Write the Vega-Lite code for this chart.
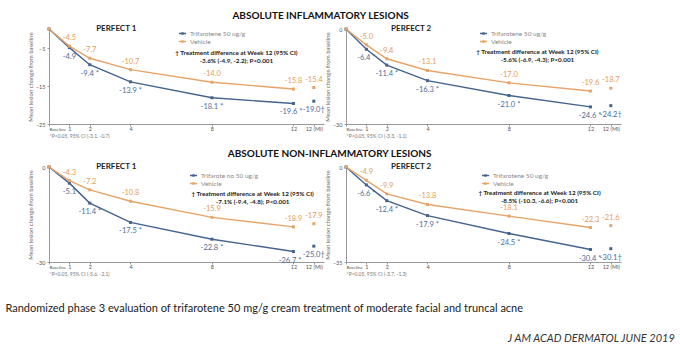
{
  "$schema": "https://vega.github.io/schema/vega-lite/v6.json",
  "background": "white",
  "padding": {"left": 5, "top": 11, "right": 5, "bottom": 3},
  "title": {"text": "J AM ACAD DERMATOL JUNE 2019", "orient": "bottom", "anchor": "end", "frame": "bounds", "dx": 53, "offset": 19, "fontSize": 11, "fontStyle": "italic", "fontWeight": "normal", "color": "#333"},
  "resolve": {"scale": {"color": "independent"}, "legend": {"color": "independent"}},
  "datasets": {
    "p1": [
      {"week": 0, "group": "Trifarotene 50 ug/g", "value": 0, "label": "", "mi": false},
      {"week": 1, "group": "Trifarotene 50 ug/g", "value": -4.9, "label": "-4.9", "mi": false},
      {"week": 2, "group": "Trifarotene 50 ug/g", "value": -9.4, "label": "-9.4 *", "mi": false},
      {"week": 4, "group": "Trifarotene 50 ug/g", "value": -13.9, "label": "-13.9 *", "mi": false},
      {"week": 8, "group": "Trifarotene 50 ug/g", "value": -18.1, "label": "-18.1 *", "mi": false},
      {"week": 12, "group": "Trifarotene 50 ug/g", "value": -19.6, "label": "-19.6 *", "mi": false},
      {"week": 13, "group": "Trifarotene 50 ug/g", "value": -19.0, "label": "-19.0†", "mi": true},
      {"week": 0, "group": "Vehicle", "value": 0, "label": "", "mi": false},
      {"week": 1, "group": "Vehicle", "value": -4.5, "label": "-4.5", "mi": false},
      {"week": 2, "group": "Vehicle", "value": -7.7, "label": "-7.7", "mi": false},
      {"week": 4, "group": "Vehicle", "value": -10.7, "label": "-10.7", "mi": false},
      {"week": 8, "group": "Vehicle", "value": -14.0, "label": "-14.0", "mi": false},
      {"week": 12, "group": "Vehicle", "value": -15.8, "label": "-15.8", "mi": false},
      {"week": 13, "group": "Vehicle", "value": -15.4, "label": "-15.4", "mi": true}
    ],
    "p2": [
      {"week": 0, "group": "Trifarotene 50 ug/g", "value": 0, "label": "", "mi": false},
      {"week": 1, "group": "Trifarotene 50 ug/g", "value": -6.4, "label": "-6.4 *", "mi": false},
      {"week": 2, "group": "Trifarotene 50 ug/g", "value": -11.4, "label": "-11.4 *", "mi": false},
      {"week": 4, "group": "Trifarotene 50 ug/g", "value": -16.3, "label": "-16.3 *", "mi": false},
      {"week": 8, "group": "Trifarotene 50 ug/g", "value": -21.0, "label": "-21.0 *", "mi": false},
      {"week": 12, "group": "Trifarotene 50 ug/g", "value": -24.6, "label": "-24.6 *", "mi": false},
      {"week": 13, "group": "Trifarotene 50 ug/g", "value": -24.2, "label": "-24.2†", "mi": true},
      {"week": 0, "group": "Vehicle", "value": 0, "label": "", "mi": false},
      {"week": 1, "group": "Vehicle", "value": -5.0, "label": "-5.0", "mi": false},
      {"week": 2, "group": "Vehicle", "value": -9.4, "label": "-9.4", "mi": false},
      {"week": 4, "group": "Vehicle", "value": -13.1, "label": "-13.1", "mi": false},
      {"week": 8, "group": "Vehicle", "value": -17.0, "label": "-17.0", "mi": false},
      {"week": 12, "group": "Vehicle", "value": -19.6, "label": "-19.6", "mi": false},
      {"week": 13, "group": "Vehicle", "value": -18.7, "label": "-18.7", "mi": true}
    ],
    "p3": [
      {"week": 0, "group": "Trifarote no 50 ug/g", "value": 0, "label": "", "mi": false},
      {"week": 1, "group": "Trifarote no 50 ug/g", "value": -5.1, "label": "-5.1", "mi": false},
      {"week": 2, "group": "Trifarote no 50 ug/g", "value": -11.4, "label": "-11.4 *", "mi": false},
      {"week": 4, "group": "Trifarote no 50 ug/g", "value": -17.5, "label": "-17.5 *", "mi": false},
      {"week": 8, "group": "Trifarote no 50 ug/g", "value": -22.8, "label": "-22.8 *", "mi": false},
      {"week": 12, "group": "Trifarote no 50 ug/g", "value": -26.7, "label": "-26.7 *", "mi": false},
      {"week": 13, "group": "Trifarote no 50 ug/g", "value": -25.0, "label": "-25.0†", "mi": true},
      {"week": 0, "group": "Vehicle", "value": 0, "label": "", "mi": false},
      {"week": 1, "group": "Vehicle", "value": -4.3, "label": "-4.3", "mi": false},
      {"week": 2, "group": "Vehicle", "value": -7.2, "label": "-7.2", "mi": false},
      {"week": 4, "group": "Vehicle", "value": -10.8, "label": "-10.8", "mi": false},
      {"week": 8, "group": "Vehicle", "value": -15.9, "label": "-15.9", "mi": false},
      {"week": 12, "group": "Vehicle", "value": -18.9, "label": "-18.9", "mi": false},
      {"week": 13, "group": "Vehicle", "value": -17.9, "label": "-17.9", "mi": true}
    ],
    "p4": [
      {"week": 0, "group": "Trifarotene 50 ug/g", "value": 0, "label": "", "mi": false},
      {"week": 1, "group": "Trifarotene 50 ug/g", "value": -6.6, "label": "-6.6 *", "mi": false},
      {"week": 2, "group": "Trifarotene 50 ug/g", "value": -12.4, "label": "-12.4 *", "mi": false},
      {"week": 4, "group": "Trifarotene 50 ug/g", "value": -17.9, "label": "-17.9 *", "mi": false},
      {"week": 8, "group": "Trifarotene 50 ug/g", "value": -24.5, "label": "-24.5 *", "mi": false},
      {"week": 12, "group": "Trifarotene 50 ug/g", "value": -30.4, "label": "-30.4 *", "mi": false},
      {"week": 13, "group": "Trifarotene 50 ug/g", "value": -30.1, "label": "-30.1†", "mi": true},
      {"week": 0, "group": "Vehicle", "value": 0, "label": "", "mi": false},
      {"week": 1, "group": "Vehicle", "value": -4.9, "label": "-4.9", "mi": false},
      {"week": 2, "group": "Vehicle", "value": -9.9, "label": "-9.9", "mi": false},
      {"week": 4, "group": "Vehicle", "value": -13.8, "label": "-13.8", "mi": false},
      {"week": 8, "group": "Vehicle", "value": -18.1, "label": "-18.1", "mi": false},
      {"week": 12, "group": "Vehicle", "value": -22.3, "label": "-22.3", "mi": false},
      {"week": 13, "group": "Vehicle", "value": -21.6, "label": "-21.6", "mi": true}
    ]
  },
  "vconcat": [
    {
      "title": {"text": "Randomized phase 3 evaluation of trifarotene 50 mg/g cream treatment of moderate facial and truncal acne", "orient": "bottom", "anchor": "start", "frame": "bounds", "dx": -22, "offset": 26, "fontSize": 11, "fontWeight": "normal", "color": "#222"},
      "resolve": {"scale": {"color": "independent"}, "legend": {"color": "independent"}},
      "spacing": 10,
      "vconcat": [
        {
          "title": {"text": "ABSOLUTE INFLAMMATORY LESIONS", "anchor": "middle", "fontSize": 10, "fontWeight": "bold", "offset": 4, "dx": -4, "color": "#111"},
          "bounds": "flush",
          "spacing": 22,
          "resolve": {"scale": {"color": "independent"}, "legend": {"color": "independent"}},
          "hconcat": [
            {
              "width": 275, "height": 95,
              "data": {"name": "p1"},
              "layer": [
                {
                  "transform": [{"filter": "!datum.mi"}],
                  "mark": {"type": "line", "strokeWidth": 1.4, "point": {"filled": true, "shape": "square", "size": 9}},
                  "encoding": {
                    "x": {"field": "week", "type": "quantitative", "scale": {"domain": [0, 13.5], "nice": false}, "axis": {"values": [0, 1, 2, 4, 8, 12, 13], "labelOverlap": false, "labelExpr": "datum.value == 0 ? 'Baseline' : datum.value == 13 ? '12 (MI)' : datum.label", "title": "*P<0.05, 95% CI (-3.1, -0.7)"}},
                    "y": {"field": "value", "type": "quantitative", "scale": {"domain": [-25, 0], "nice": false}, "axis": {"values": [0, -5, -10, -15, -20, -25], "labelOverlap": false, "title": "Mean lesion change from baseline"}},
                    "color": {"field": "group", "type": "nominal", "scale": {"domain": ["Trifarotene 50 ug/g", "Vehicle"], "range": ["#44638f", "#e6a468"]}, "legend": {"orient": "none", "legendX": 129, "legendY": 0, "title": null}}
                  }
                },
                {
                  "transform": [{"filter": "datum.mi"}],
                  "mark": {"type": "point", "filled": true, "shape": "square", "size": 9, "opacity": 1},
                  "encoding": {"x": {"field": "week", "type": "quantitative", "axis": {"labelOverlap": false}}, "y": {"field": "value", "type": "quantitative", "axis": {"labelOverlap": false}}, "color": {"field": "group", "type": "nominal"}}
                },
                {
                  "transform": [{"filter": "datum.group != 'Vehicle' && datum.label != '' && datum.week != 12"}],
                  "mark": {"type": "text", "dy": 9, "fontSize": 7.5, "color": "#4b6c9a"},
                  "encoding": {"x": {"field": "week", "type": "quantitative", "axis": {"labelOverlap": false}}, "y": {"field": "value", "type": "quantitative", "axis": {"labelOverlap": false}}, "text": {"field": "label"}}
                },
                {
                  "transform": [{"filter": "datum.group != 'Vehicle' && datum.week == 12"}],
                  "mark": {"type": "text", "dy": 9, "dx": 9, "align": "right", "fontSize": 7.5, "color": "#4b6c9a"},
                  "encoding": {"x": {"field": "week", "type": "quantitative", "axis": {"labelOverlap": false}}, "y": {"field": "value", "type": "quantitative", "axis": {"labelOverlap": false}}, "text": {"field": "label"}}
                },
                {
                  "transform": [{"filter": "datum.group == 'Vehicle' && datum.label != ''"}],
                  "mark": {"type": "text", "dy": -8, "fontSize": 7.5, "color": "#e39c5c"},
                  "encoding": {"x": {"field": "week", "type": "quantitative", "axis": {"labelOverlap": false}}, "y": {"field": "value", "type": "quantitative", "axis": {"labelOverlap": false}}, "text": {"field": "label"}}
                },
                {
                  "data": {"values": [{}]},
                  "mark": {"type": "text", "text": "PERFECT 1", "fontWeight": "bold", "fontSize": 8, "color": "#222"},
                  "encoding": {"x": {"datum": 3.3, "axis": {"labelOverlap": false}}, "y": {"datum": 0, "axis": {"labelOverlap": false}}}
                },
                {
                  "data": {"values": [{}]},
                  "mark": {"type": "text", "text": ["† Treatment difference at Week 12 (95% CI)", "-3.6% (-4.9, -2.2); P<0.001"], "fontWeight": "bold", "fontSize": 6.3, "lineHeight": 8, "color": "#222"},
                  "encoding": {"x": {"datum": 9.2, "axis": {"labelOverlap": false}}, "y": {"datum": -6.3, "axis": {"labelOverlap": false}}}
                }
              ]
            },
            {
              "width": 275, "height": 95,
              "data": {"name": "p2"},
              "layer": [
                {
                  "transform": [{"filter": "!datum.mi"}],
                  "mark": {"type": "line", "strokeWidth": 1.4, "point": {"filled": true, "shape": "square", "size": 9}},
                  "encoding": {
                    "x": {"field": "week", "type": "quantitative", "scale": {"domain": [0, 13.5], "nice": false}, "axis": {"values": [0, 1, 2, 4, 8, 12, 13], "labelOverlap": false, "labelExpr": "datum.value == 0 ? 'Baseline' : datum.value == 13 ? '12 (MI)' : datum.label", "title": "*P<0.05, 95% CI (-3.3, -1.1)"}},
                    "y": {"field": "value", "type": "quantitative", "scale": {"domain": [-30, 0], "nice": false}, "axis": {"values": [0, -5, -10, -15, -20, -25, -30], "labelOverlap": false, "title": "Mean lesion change from baseline"}},
                    "color": {"field": "group", "type": "nominal", "scale": {"domain": ["Trifarotene 50 ug/g", "Vehicle"], "range": ["#44638f", "#e6a468"]}, "legend": {"orient": "none", "legendX": 133, "legendY": 0, "title": null}}
                  }
                },
                {
                  "transform": [{"filter": "datum.mi"}],
                  "mark": {"type": "point", "filled": true, "shape": "square", "size": 9, "opacity": 1},
                  "encoding": {"x": {"field": "week", "type": "quantitative", "axis": {"labelOverlap": false}}, "y": {"field": "value", "type": "quantitative", "axis": {"labelOverlap": false}}, "color": {"field": "group", "type": "nominal"}}
                },
                {
                  "transform": [{"filter": "datum.group != 'Vehicle' && datum.label != '' && datum.week != 12"}],
                  "mark": {"type": "text", "dy": 9, "fontSize": 7.5, "color": "#4b6c9a"},
                  "encoding": {"x": {"field": "week", "type": "quantitative", "axis": {"labelOverlap": false}}, "y": {"field": "value", "type": "quantitative", "axis": {"labelOverlap": false}}, "text": {"field": "label"}}
                },
                {
                  "transform": [{"filter": "datum.group != 'Vehicle' && datum.week == 12"}],
                  "mark": {"type": "text", "dy": 9, "dx": 11, "align": "right", "fontSize": 7.5, "color": "#4b6c9a"},
                  "encoding": {"x": {"field": "week", "type": "quantitative", "axis": {"labelOverlap": false}}, "y": {"field": "value", "type": "quantitative", "axis": {"labelOverlap": false}}, "text": {"field": "label"}}
                },
                {
                  "transform": [{"filter": "datum.group == 'Vehicle' && datum.label != ''"}],
                  "mark": {"type": "text", "dy": -8, "fontSize": 7.5, "color": "#e39c5c"},
                  "encoding": {"x": {"field": "week", "type": "quantitative", "axis": {"labelOverlap": false}}, "y": {"field": "value", "type": "quantitative", "axis": {"labelOverlap": false}}, "text": {"field": "label"}}
                },
                {
                  "data": {"values": [{}]},
                  "mark": {"type": "text", "text": "PERFECT 2", "fontWeight": "bold", "fontSize": 8, "color": "#222"},
                  "encoding": {"x": {"datum": 3.2, "axis": {"labelOverlap": false}}, "y": {"datum": 0, "axis": {"labelOverlap": false}}}
                },
                {
                  "data": {"values": [{}]},
                  "mark": {"type": "text", "text": ["† Treatment difference at Week 12 (95% CI)", "-5.6% (-6.9, -4.3); P<0.001"], "fontWeight": "bold", "fontSize": 6.3, "lineHeight": 8, "color": "#222"},
                  "encoding": {"x": {"datum": 9.4, "axis": {"labelOverlap": false}}, "y": {"datum": -7.2, "axis": {"labelOverlap": false}}}
                }
              ]
            }
          ]
        },
        {
          "title": {"text": "ABSOLUTE NON-INFLAMMATORY LESIONS", "anchor": "middle", "fontSize": 10, "fontWeight": "bold", "offset": 4, "dx": 5, "color": "#111"},
          "bounds": "flush",
          "spacing": 22,
          "resolve": {"scale": {"color": "independent"}, "legend": {"color": "independent"}},
          "hconcat": [
            {
              "width": 275, "height": 95,
              "data": {"name": "p3"},
              "layer": [
                {
                  "transform": [{"filter": "!datum.mi"}],
                  "mark": {"type": "line", "strokeWidth": 1.4, "point": {"filled": true, "shape": "square", "size": 9}},
                  "encoding": {
                    "x": {"field": "week", "type": "quantitative", "scale": {"domain": [0, 13.5], "nice": false}, "axis": {"values": [0, 1, 2, 4, 8, 12, 13], "labelOverlap": false, "labelExpr": "datum.value == 0 ? 'Baseline' : datum.value == 13 ? '12 (MI)' : datum.label", "title": "*P<0.05, 95% CI (-5.6, -2.1)"}},
                    "y": {"field": "value", "type": "quantitative", "scale": {"domain": [-30, 0], "nice": false}, "axis": {"values": [0, -5, -10, -15, -20, -25, -30], "labelOverlap": false, "title": "Mean lesion change from baseline"}},
                    "color": {"field": "group", "type": "nominal", "scale": {"domain": ["Trifarote no 50 ug/g", "Vehicle"], "range": ["#44638f", "#e6a468"]}, "legend": {"orient": "none", "legendX": 140, "legendY": 4, "title": null}}
                  }
                },
                {
                  "transform": [{"filter": "datum.mi"}],
                  "mark": {"type": "point", "filled": true, "shape": "square", "size": 9, "opacity": 1},
                  "encoding": {"x": {"field": "week", "type": "quantitative", "axis": {"labelOverlap": false}}, "y": {"field": "value", "type": "quantitative", "axis": {"labelOverlap": false}}, "color": {"field": "group", "type": "nominal"}}
                },
                {
                  "transform": [{"filter": "datum.group != 'Vehicle' && datum.label != '' && datum.week != 12"}],
                  "mark": {"type": "text", "dy": 9, "fontSize": 7.5, "color": "#4b6c9a"},
                  "encoding": {"x": {"field": "week", "type": "quantitative", "axis": {"labelOverlap": false}}, "y": {"field": "value", "type": "quantitative", "axis": {"labelOverlap": false}}, "text": {"field": "label"}}
                },
                {
                  "transform": [{"filter": "datum.group != 'Vehicle' && datum.week == 12"}],
                  "mark": {"type": "text", "dy": 9, "dx": 8, "align": "right", "fontSize": 7.5, "color": "#4b6c9a"},
                  "encoding": {"x": {"field": "week", "type": "quantitative", "axis": {"labelOverlap": false}}, "y": {"field": "value", "type": "quantitative", "axis": {"labelOverlap": false}}, "text": {"field": "label"}}
                },
                {
                  "transform": [{"filter": "datum.group == 'Vehicle' && datum.label != ''"}],
                  "mark": {"type": "text", "dy": -8, "fontSize": 7.5, "color": "#e39c5c"},
                  "encoding": {"x": {"field": "week", "type": "quantitative", "axis": {"labelOverlap": false}}, "y": {"field": "value", "type": "quantitative", "axis": {"labelOverlap": false}}, "text": {"field": "label"}}
                },
                {
                  "data": {"values": [{}]},
                  "mark": {"type": "text", "text": "PERFECT 1", "fontWeight": "bold", "fontSize": 8, "color": "#222"},
                  "encoding": {"x": {"datum": 3.3, "axis": {"labelOverlap": false}}, "y": {"datum": 0, "axis": {"labelOverlap": false}}}
                },
                {
                  "data": {"values": [{}]},
                  "mark": {"type": "text", "text": ["† Treatment difference at Week 12 (95% CI)", "-7.1% (-9.4, -4.8); P<0.001"], "fontWeight": "bold", "fontSize": 6.3, "lineHeight": 8, "color": "#222"},
                  "encoding": {"x": {"datum": 10.0, "axis": {"labelOverlap": false}}, "y": {"datum": -8.4, "axis": {"labelOverlap": false}}}
                }
              ]
            },
            {
              "width": 275, "height": 95,
              "data": {"name": "p4"},
              "layer": [
                {
                  "transform": [{"filter": "!datum.mi"}],
                  "mark": {"type": "line", "strokeWidth": 1.4, "point": {"filled": true, "shape": "square", "size": 9}},
                  "encoding": {
                    "x": {"field": "week", "type": "quantitative", "scale": {"domain": [0, 13.5], "nice": false}, "axis": {"values": [0, 1, 2, 4, 8, 12, 13], "labelOverlap": false, "labelExpr": "datum.value == 0 ? 'Baseline' : datum.value == 13 ? '12 (MI)' : datum.label", "title": "*P<0.05, 95% CI (-3.7, -1.3)"}},
                    "y": {"field": "value", "type": "quantitative", "scale": {"domain": [-35, 0], "nice": false}, "axis": {"values": [0, -5, -10, -15, -20, -25, -30, -35], "labelOverlap": false, "title": "Mean lesion change from baseline"}},
                    "color": {"field": "group", "type": "nominal", "scale": {"domain": ["Trifarotene 50 ug/g", "Vehicle"], "range": ["#44638f", "#e6a468"]}, "legend": {"orient": "none", "legendX": 135, "legendY": 4, "title": null}}
                  }
                },
                {
                  "transform": [{"filter": "datum.mi"}],
                  "mark": {"type": "point", "filled": true, "shape": "square", "size": 9, "opacity": 1},
                  "encoding": {"x": {"field": "week", "type": "quantitative", "axis": {"labelOverlap": false}}, "y": {"field": "value", "type": "quantitative", "axis": {"labelOverlap": false}}, "color": {"field": "group", "type": "nominal"}}
                },
                {
                  "transform": [{"filter": "datum.group != 'Vehicle' && datum.label != '' && datum.week != 12"}],
                  "mark": {"type": "text", "dy": 9, "fontSize": 7.5, "color": "#4b6c9a"},
                  "encoding": {"x": {"field": "week", "type": "quantitative", "axis": {"labelOverlap": false}}, "y": {"field": "value", "type": "quantitative", "axis": {"labelOverlap": false}}, "text": {"field": "label"}}
                },
                {
                  "transform": [{"filter": "datum.group != 'Vehicle' && datum.week == 12"}],
                  "mark": {"type": "text", "dy": 9, "dx": 11, "align": "right", "fontSize": 7.5, "color": "#4b6c9a"},
                  "encoding": {"x": {"field": "week", "type": "quantitative", "axis": {"labelOverlap": false}}, "y": {"field": "value", "type": "quantitative", "axis": {"labelOverlap": false}}, "text": {"field": "label"}}
                },
                {
                  "transform": [{"filter": "datum.group == 'Vehicle' && datum.label != ''"}],
                  "mark": {"type": "text", "dy": -8, "fontSize": 7.5, "color": "#e39c5c"},
                  "encoding": {"x": {"field": "week", "type": "quantitative", "axis": {"labelOverlap": false}}, "y": {"field": "value", "type": "quantitative", "axis": {"labelOverlap": false}}, "text": {"field": "label"}}
                },
                {
                  "data": {"values": [{}]},
                  "mark": {"type": "text", "text": "PERFECT 2", "fontWeight": "bold", "fontSize": 8, "color": "#222"},
                  "encoding": {"x": {"datum": 3.2, "axis": {"labelOverlap": false}}, "y": {"datum": 0, "axis": {"labelOverlap": false}}}
                },
                {
                  "data": {"values": [{}]},
                  "mark": {"type": "text", "text": ["† Treatment difference at Week 12 (95% CI)", "-8.5% (-10.3, -6.6); P<0.001"], "fontWeight": "bold", "fontSize": 6.3, "lineHeight": 8, "color": "#222"},
                  "encoding": {"x": {"datum": 9.5, "axis": {"labelOverlap": false}}, "y": {"datum": -9.4, "axis": {"labelOverlap": false}}}
                }
              ]
            }
          ]
        }
      ]
    }
  ],
  "config": {
    "font": "Lato",
    "view": {"stroke": null},
    "axis": {"grid": false, "domainColor": "#999", "tickColor": "#999", "tickSize": 2, "labelColor": "#555", "labelFontSize": 5.5, "labelPadding": 2, "labelOverlap": false, "titleColor": "#666", "titleFontWeight": "normal"},
    "axisY": {"titleFontSize": 6, "titlePadding": 2, "labelOverlap": false, "labelFlush": false},
    "axisX": {"titleFontSize": 5, "titleAnchor": "start", "titleAlign": "left", "titlePadding": 2, "titleColor": "#777", "labelPadding": 0, "labelFlush": false,
      "labelAlign": {"condition": {"test": "datum.value == 0", "value": "left"}, "value": "center"},
      "labelFontSize": {"condition": {"test": "datum.value == 0", "value": 4.5}, "value": 5.5}},
    "legend": {"symbolType": "M-1,0H1M-0.15,-0.15H0.15V0.15H-0.15Z", "symbolSize": 50, "symbolStrokeWidth": 1.3, "labelFontSize": 6.5, "labelColor": "#888", "rowPadding": 0, "padding": 0, "labelOffset": 3}
  }
}
